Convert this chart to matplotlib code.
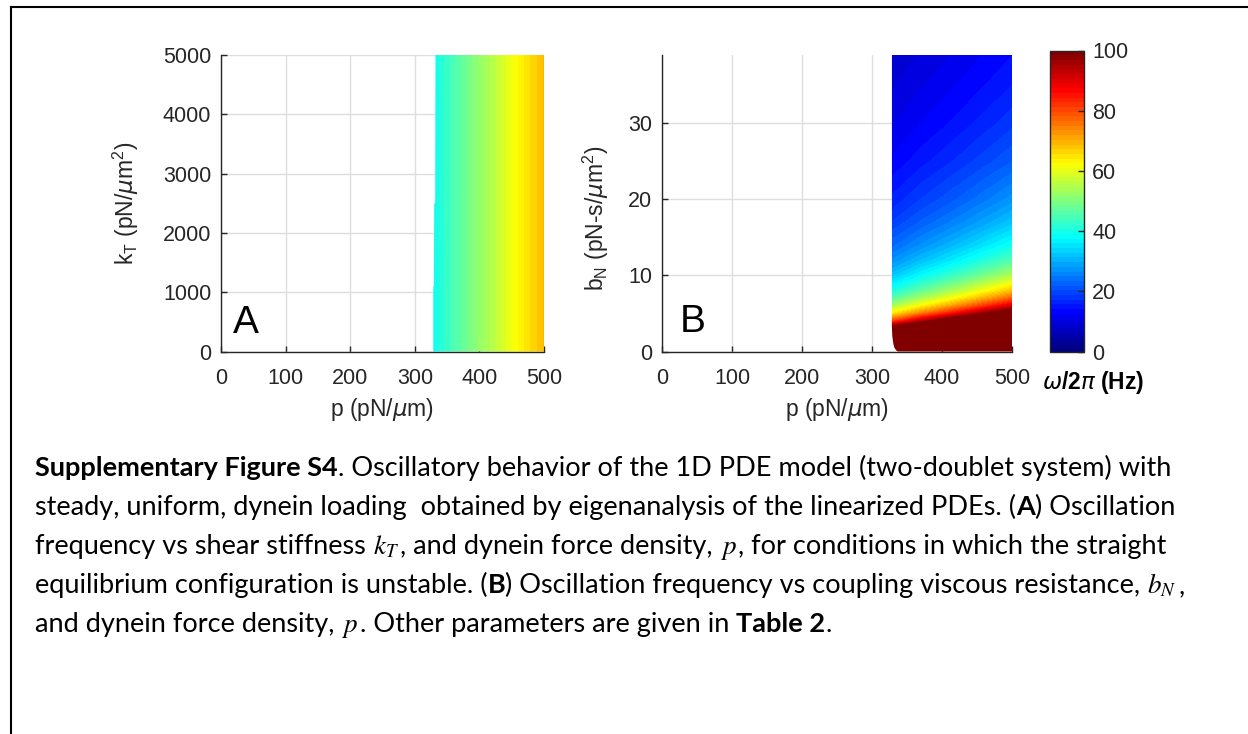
import numpy as np
import matplotlib
matplotlib.use("Agg")
import matplotlib.pyplot as plt
from matplotlib.patches import Polygon
from matplotlib.font_manager import FontProperties
from matplotlib.lines import Line2D
from matplotlib.colors import Normalize, LinearSegmentedColormap
import matplotlib.cm as cm

# ---------------- data ----------------
p_ticks = [0, 100, 200, 300, 400, 500]
kT_ticks = [0, 1000, 2000, 3000, 4000, 5000]
bN_ticks = [0, 10, 20, 30]
cbar_ticks = [0, 20, 40, 60, 80, 100]

# Panel A: frequency depends on p only (Hz)
pA = [328, 350, 375, 400, 425, 450, 475, 500]
kA = [0, 5000]
freqA = [39, 43, 47.5, 52, 56, 61, 65, 69]
# left edge of the unstable region (k_T, p)
edgeA_k = [0, 1100, 1100, 2500, 2500, 5000]
edgeA_p = [328.5, 328.5, 329.5, 330, 331.5, 332]

# Panel B: frequency table (rows: b_N, columns: p)
pB = [328, 370, 415, 460, 500]
bB = [0, 1, 2, 3, 4, 5, 6, 7, 8, 10, 12, 14, 17, 20, 25, 30, 35, 39]
freqB = [
    [200, 200, 200, 200, 200],
    [200, 200, 200, 200, 200],
    [160, 188, 200, 200, 200],
    [107, 125, 143, 163, 182],
    [80, 94, 108, 122, 136],
    [64, 75, 86, 98, 109],
    [53.3, 62.5, 71.7, 81.7, 90.8],
    [45.7, 53.6, 61.4, 70, 77.9],
    [40, 46.9, 53.8, 61.3, 68.1],
    [32, 37.5, 43, 49, 54.5],
    [26.7, 31.3, 35.8, 40.8, 45.4],
    [22.9, 26.8, 30.7, 35, 38.9],
    [18.8, 22.1, 25.3, 28.8, 32.1],
    [16, 18.8, 21.5, 24.5, 27.3],
    [12.8, 15, 17.2, 19.6, 21.8],
    [10.7, 12.5, 14.3, 16.3, 18.2],
    [9.1, 10.7, 12.3, 14, 15.6],
    [8.2, 9.6, 11, 12.6, 14],
]
# left edge of the unstable region (b_N, p)
edgeB_b = [39, 3.0, 2.0, 1.0, 0.5, 0.15, 0]
edgeB_p = [328.5, 328.5, 329, 330.5, 332, 334.5, 337]

caption_lines = [
    [("Supplementary Figure S4", "b"),
     (". Oscillatory behavior of the 1D PDE model (two-doublet system) with", "r")],
    [("steady, uniform, dynein loading  obtained by eigenanalysis of the linearized PDEs. (", "r"),
     ("A", "b"), (") Oscillation", "r")],
    [("frequency vs shear stiffness ", "r"), (r"$k_T$", "m"),
     (", and dynein force density, ", "r"), (r"$p$", "m"),
     (", for conditions in which the straight", "r")],
    [("equilibrium configuration is unstable. (", "r"), ("B", "b"),
     (") Oscillation frequency vs coupling viscous resistance, ", "r"),
     (r"$b_N$", "m"), (",", "r")],
    [("and dynein force density, ", "r"), (r"$p$", "m"),
     (". Other parameters are given in ", "r"), ("Table 2", "b"), (".", "r")],
]

# ---------------- style ----------------
W, H = 1248, 734
plt.rcParams["font.family"] = ["Liberation Sans", "DejaVu Sans"]
TXT = "#262626"
FS = 15.5      # tick labels
FL = 16.5      # axis labels

fig = plt.figure(figsize=(W / 100, H / 100), dpi=100)


def px_axes(l, r, t, b):
    return fig.add_axes([l / W, 1 - b / H, (r - l) / W, (b - t) / H])


# MATLAB-style jet colormap
jet_segments = {
    "red": [(0, 0, 0), (0.375, 0, 0), (0.625, 1, 1), (0.875, 1, 1), (1, 0.5, 0.5)],
    "green": [(0, 0, 0), (0.125, 0, 0), (0.375, 1, 1), (0.625, 1, 1),
              (0.875, 0, 0), (1, 0, 0)],
    "blue": [(0, 0.5, 0.5), (0.125, 1, 1), (0.375, 1, 1), (0.625, 0, 0), (1, 0, 0)],
}
cmap = LinearSegmentedColormap("jet_matlab", jet_segments, N=64)
cmap.set_over(cmap(1.0))
levels = np.linspace(0, 100, 65)


def style_axes(ax):
    for s in ("top", "right"):
        ax.spines[s].set_visible(False)
    for s in ("left", "bottom"):
        ax.spines[s].set_color(TXT)
        ax.spines[s].set_linewidth(1.0)
    ax.tick_params(direction="in", length=4, width=1, color=TXT,
                   labelcolor=TXT, labelsize=FS)
    ax.tick_params(axis="x", pad=12)
    ax.tick_params(axis="y", pad=7)
    ax.set_axisbelow(True)
    ax.grid(True, color="#dedede", lw=1)


# ---- Panel A ----
axA = px_axes(221, 544, 55, 351.5)
ZA = np.array([freqA, freqA])
csA = axA.contourf(pA, kA, ZA, levels=levels, cmap=cmap, extend="max", zorder=1)
polyA = Polygon(list(zip(edgeA_p, edgeA_k)) + [(500, 5000), (500, 0)],
                closed=True, transform=axA.transData)
csA.set_clip_path(polyA)
axA.set_xlim(0, 500)
axA.set_ylim(0, 5000)
axA.set_xticks(p_ticks)
axA.set_yticks(kT_ticks)
style_axes(axA)
axA.set_xlabel(r"p (pN/$\mu$m)", fontsize=FL, color=TXT)
axA.set_ylabel(r"k$_\mathregular{T}$ (pN/$\mu$m$^\mathregular{2}$)", fontsize=FL, color=TXT)
axA.xaxis.set_label_coords(0.5, -0.194)
axA.xaxis.label.set_va("center")
axA.yaxis.set_label_coords(-0.294, 0.5)
axA.yaxis.label.set_va("center")
axA.text(0.037, 0.061, "A", transform=axA.transAxes, fontsize=28,
         ha="left", va="baseline", color="black")

# ---- Panel B ----
axB = px_axes(662, 1012, 55, 351.5)
csB = axB.contourf(pB, bB, np.array(freqB), levels=levels, cmap=cmap,
                   extend="max", zorder=1)
polyB = Polygon(list(zip(edgeB_p, edgeB_b)) + [(500, 0), (500, 39)],
                closed=True, transform=axB.transData)
csB.set_clip_path(polyB)
axB.set_xlim(0, 500)
axB.set_ylim(0, 39)
axB.set_xticks(p_ticks)
axB.set_yticks(bN_ticks)
style_axes(axB)
axB.set_xlabel(r"p (pN/$\mu$m)", fontsize=FL, color=TXT)
axB.set_ylabel(r"b$_\mathregular{N}$ (pN-s/$\mu$m$^\mathregular{2}$)", fontsize=FL, color=TXT)
axB.xaxis.set_label_coords(0.5, -0.194)
axB.xaxis.label.set_va("center")
axB.yaxis.set_label_coords(-0.19, 0.45)
axB.yaxis.label.set_va("center")
axB.text(0.051, 0.067, "B", transform=axB.transAxes, fontsize=28,
         ha="left", va="baseline", color="black")

# ---- Colorbar ----
cax = px_axes(1050, 1084, 50.5, 351.5)
sm = cm.ScalarMappable(norm=Normalize(0, 100), cmap=cmap)
cb = fig.colorbar(sm, cax=cax, ticks=cbar_ticks)
cb.outline.set_edgecolor(TXT)
cb.outline.set_linewidth(1.0)
cax.tick_params(direction="in", length=4, width=1, color=TXT,
                labelcolor=TXT, labelsize=FS, pad=6)
fig.text(1042 / W, 1 - 383 / H, r"$\omega$/2$\pi$ (Hz)", fontsize=FL,
         fontweight="bold", color="black", ha="left", va="center")

# ---- page frame ----
fig.add_artist(Line2D([11 / W, 11 / W], [0, 1 - 7 / H], color="black", lw=1.5,
                      transform=fig.transFigure))
fig.add_artist(Line2D([11 / W, 1], [1 - 7 / H, 1 - 7 / H], color="black", lw=1.5,
                      transform=fig.transFigure))

# ---- caption ----
renderer = fig.canvas.get_renderer()
CAP_FAMILY = ["Lato", "DejaVu Sans"]


def fprops(style, size):
    return FontProperties(family=CAP_FAMILY,
                          weight="bold" if style == "b" else "normal",
                          size=size, math_fontfamily="stix")


def advance(s, style, size):
    fp = fprops(style, size)
    if style == "m":
        w, _, _ = renderer.get_text_width_height_descent(s, fp, ismath=True)
        return w + 1.5
    w1, _, _ = renderer.get_text_width_height_descent("x" + s + "x", fp, ismath=False)
    w0, _, _ = renderer.get_text_width_height_descent("xx", fp, ismath=False)
    return w1 - w0


x_start = 35
line1_end = 1170
ref_size = 20.0
w_ref = sum(advance(s, st, ref_size) for s, st in caption_lines[0])
cap_size = ref_size * (line1_end - x_start) / w_ref

baselines = [476, 515, 554, 593, 632]
for pieces, yb in zip(caption_lines, baselines):
    x = x_start
    for s, st in pieces:
        fig.text(x / W, 1 - yb / H, s, fontproperties=fprops(st, cap_size),
                 ha="left", va="baseline", color="black")
        x += advance(s, st, cap_size)

fig.savefig("out.png", dpi=100)
